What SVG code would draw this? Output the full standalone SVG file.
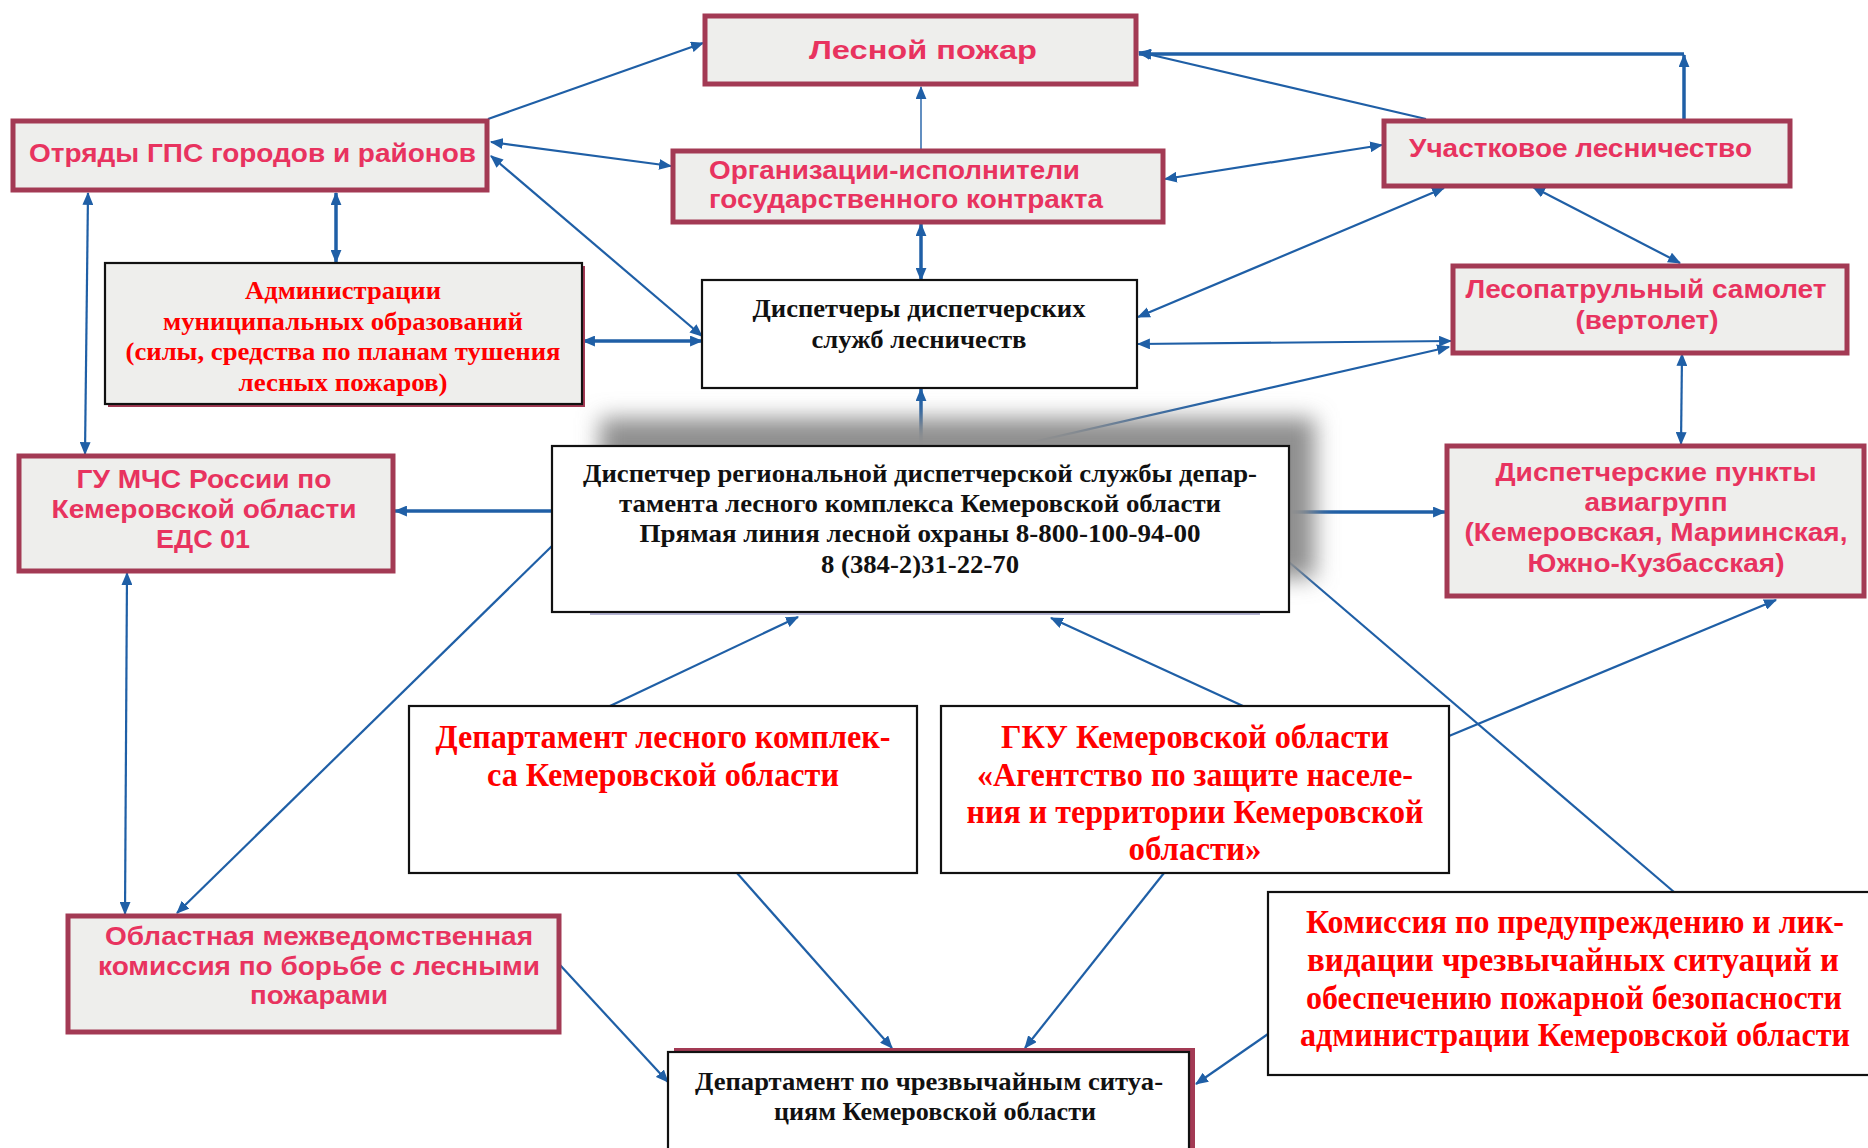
<svg xmlns="http://www.w3.org/2000/svg" width="1868" height="1148" viewBox="0 0 1868 1148">
<style>
.pb{fill:#eeeeec;stroke:#a33a54;stroke-width:5}
.bb{fill:#ffffff;stroke:#111111;stroke-width:2.2}
.gb{fill:#eeeeec;stroke:#111111;stroke-width:2.2}
.ps{font-family:"Liberation Sans",Arial,sans-serif;font-weight:bold;fill:#e8335f;font-size:26px}
.rs{font-family:"Liberation Serif","Times New Roman",serif;font-weight:bold;fill:#ff0000}
.ks{font-family:"Liberation Serif","Times New Roman",serif;font-weight:bold;fill:#111111}
.c{fill:none;stroke:#1f5fa6;stroke-width:2.2}
.t{stroke-width:3.5}
.th{stroke-width:1.4}
</style>
<defs>
<marker id="ah" viewBox="0 0 12 10" refX="11" refY="5" markerWidth="13" markerHeight="11" markerUnits="userSpaceOnUse" orient="auto-start-reverse"><path d="M0,0 L12,5 L0,10 z" fill="#1f5fa6"/></marker>
<filter id="blur" x="-20%" y="-40%" width="140%" height="180%"><feGaussianBlur stdDeviation="11"/></filter>
</defs>

<g id="connectors">
<line class="c" x1="488" y1="119" x2="703" y2="43" marker-end="url(#ah)"/>
<line class="c" x1="491" y1="142" x2="671" y2="166" marker-start="url(#ah)" marker-end="url(#ah)"/>
<line class="c" x1="491" y1="156" x2="702" y2="336" marker-start="url(#ah)" marker-end="url(#ah)"/>
<line class="c t" x1="336" y1="193" x2="336" y2="262" marker-start="url(#ah)" marker-end="url(#ah)"/>
<line class="c" x1="88" y1="193" x2="85" y2="454" marker-start="url(#ah)" marker-end="url(#ah)"/>
<line class="c t" x1="583" y1="341" x2="702" y2="341" marker-start="url(#ah)" marker-end="url(#ah)"/>
<line class="c th" x1="921" y1="149" x2="921" y2="87" marker-end="url(#ah)"/>
<line class="c t" x1="921" y1="224" x2="921" y2="280" marker-start="url(#ah)" marker-end="url(#ah)"/>
<line class="c" x1="1426" y1="119" x2="1139" y2="52" marker-end="url(#ah)"/>
<polyline class="c t" points="1684,54 1139,54" marker-end="url(#ah)"/>
<line class="c t" x1="1684" y1="119" x2="1684" y2="55" marker-end="url(#ah)"/>
<line class="c" x1="1165" y1="179" x2="1382" y2="145" marker-start="url(#ah)" marker-end="url(#ah)"/>
<line class="c" x1="1138" y1="317" x2="1444" y2="188" marker-start="url(#ah)" marker-end="url(#ah)"/>
<line class="c" x1="1533" y1="187" x2="1680" y2="263" marker-start="url(#ah)" marker-end="url(#ah)"/>
<line class="c" x1="1138" y1="344" x2="1451" y2="341" marker-start="url(#ah)" marker-end="url(#ah)"/>
<line class="c" x1="1016" y1="446" x2="1449" y2="347" marker-end="url(#ah)"/>
<line class="c t" x1="921" y1="446" x2="921" y2="389" marker-end="url(#ah)"/>
<line class="c" x1="1682" y1="354" x2="1681" y2="444" marker-start="url(#ah)" marker-end="url(#ah)"/>
<line class="c t" x1="552" y1="511" x2="395" y2="511" marker-end="url(#ah)"/>
<line class="c t" x1="1289" y1="512" x2="1445" y2="512" marker-end="url(#ah)"/>
<line class="c" x1="552" y1="546" x2="177" y2="913" marker-end="url(#ah)"/>
<line class="c" x1="127" y1="573" x2="125" y2="914" marker-start="url(#ah)" marker-end="url(#ah)"/>
<line class="c" x1="610" y1="706" x2="798" y2="617" marker-end="url(#ah)"/>
<line class="c" x1="1243" y1="706" x2="1051" y2="618" marker-end="url(#ah)"/>
<line class="c" x1="1449" y1="736" x2="1776" y2="600" marker-end="url(#ah)"/>
<line class="c" x1="1289" y1="562" x2="1674" y2="892"/>
<line class="c" x1="737" y1="873" x2="892" y2="1048" marker-end="url(#ah)"/>
<line class="c" x1="1164" y1="873" x2="1025" y2="1048" marker-end="url(#ah)"/>
<line class="c" x1="560" y1="965" x2="668" y2="1082" marker-end="url(#ah)"/>
<line class="c" x1="1268" y1="1034" x2="1196" y2="1084" marker-end="url(#ah)"/>
</g>

<g id="n-lesnoy-pozhar">
<rect class="pb" x="705" y="16" width="431" height="68"/>
<text class="ps" x="923" y="59" text-anchor="middle" font-size="31" textLength="228" lengthAdjust="spacingAndGlyphs">Лесной пожар</text>
</g>

<g id="n-otryady">
<rect class="pb" x="13" y="121" width="474" height="69"/>
<text class="ps" x="29" y="162" textLength="447" lengthAdjust="spacingAndGlyphs">Отряды ГПС городов и районов</text>
</g>

<g id="n-organizacii">
<rect class="pb" x="673" y="151" width="490" height="71"/>
<text class="ps" x="709" y="179" textLength="371" lengthAdjust="spacingAndGlyphs">Организации-исполнители</text>
<text class="ps" x="709" y="208" textLength="394" lengthAdjust="spacingAndGlyphs">государственного контракта</text>
</g>

<g id="n-uchastkovoe">
<rect class="pb" x="1384" y="121" width="406" height="65"/>
<text class="ps" x="1409" y="157" textLength="343" lengthAdjust="spacingAndGlyphs">Участковое лесничество</text>
</g>

<g id="n-administracii">
<rect x="108" y="266" width="477" height="141" fill="#a33a54"/>
<rect class="gb" x="105" y="263" width="477" height="141"/>
<text class="rs" font-size="25" text-anchor="middle" x="343" y="299" textLength="196" lengthAdjust="spacingAndGlyphs">Администрации</text>
<text class="rs" font-size="25" text-anchor="middle" x="343" y="330" textLength="360" lengthAdjust="spacingAndGlyphs">муниципальных образований</text>
<text class="rs" font-size="25" text-anchor="middle" x="343" y="360" textLength="435" lengthAdjust="spacingAndGlyphs">(силы, средства по планам тушения</text>
<text class="rs" font-size="25" text-anchor="middle" x="343" y="391" textLength="209" lengthAdjust="spacingAndGlyphs">лесных пожаров)</text>
</g>

<g id="n-dispetchery">
<rect class="bb" x="702" y="280" width="435" height="108"/>
<text class="ks" font-size="26" text-anchor="middle" x="919" y="317" textLength="333" lengthAdjust="spacingAndGlyphs">Диспетчеры диспетчерских</text>
<text class="ks" font-size="26" text-anchor="middle" x="919" y="348" textLength="215" lengthAdjust="spacingAndGlyphs">служб лесничеств</text>
</g>

<g id="n-lesopatrulny">
<rect class="pb" x="1453" y="266" width="394" height="87"/>
<text class="ps" text-anchor="middle" x="1646" y="298" textLength="361" lengthAdjust="spacingAndGlyphs">Лесопатрульный самолет</text>
<text class="ps" text-anchor="middle" x="1647" y="329" textLength="143" lengthAdjust="spacingAndGlyphs">(вертолет)</text>
</g>

<g id="n-gu-mchs">
<rect class="pb" x="19" y="456" width="374" height="115"/>
<text class="ps" text-anchor="middle" x="204" y="488" textLength="255" lengthAdjust="spacingAndGlyphs">ГУ МЧС России по</text>
<text class="ps" text-anchor="middle" x="204" y="518" textLength="305" lengthAdjust="spacingAndGlyphs">Кемеровской области</text>
<text class="ps" text-anchor="middle" x="203" y="548" textLength="94" lengthAdjust="spacingAndGlyphs">ЕДС 01</text>
</g>

<g id="n-central">
<rect x="600" y="418" width="715" height="160" fill="#8f8f8f" filter="url(#blur)"/>
<rect class="bb" x="552" y="446" width="737" height="166"/>
<line x1="590" y1="614" x2="1260" y2="614" stroke="#3a3a8a" stroke-width="1.5" opacity="0.5"/>
<text class="ks" font-size="26" text-anchor="middle" x="920" y="482" textLength="674" lengthAdjust="spacingAndGlyphs">Диспетчер региональной диспетчерской службы депар-</text>
<text class="ks" font-size="26" text-anchor="middle" x="920" y="512" textLength="602" lengthAdjust="spacingAndGlyphs">тамента лесного комплекса Кемеровской  области</text>
<text class="ks" font-size="26" text-anchor="middle" x="920" y="542" textLength="561" lengthAdjust="spacingAndGlyphs">Прямая линия лесной охраны  8-800-100-94-00</text>
<text class="ks" font-size="26" text-anchor="middle" x="920" y="573" textLength="198" lengthAdjust="spacingAndGlyphs">8 (384-2)31-22-70</text>
</g>

<g id="n-dispetcherskie-punkty">
<rect class="pb" x="1447" y="446" width="417" height="150"/>
<text class="ps" text-anchor="middle" x="1656" y="481" textLength="321" lengthAdjust="spacingAndGlyphs">Диспетчерские пункты</text>
<text class="ps" text-anchor="middle" x="1656" y="511" textLength="143" lengthAdjust="spacingAndGlyphs">авиагрупп</text>
<text class="ps" text-anchor="middle" x="1656" y="541" textLength="383" lengthAdjust="spacingAndGlyphs">(Кемеровская, Мариинская,</text>
<text class="ps" text-anchor="middle" x="1656" y="572" textLength="257" lengthAdjust="spacingAndGlyphs">Южно-Кузбасская)</text>
</g>

<g id="n-dep-lesnogo">
<rect class="bb" x="409" y="706" width="508" height="167"/>
<text class="rs" font-size="33" text-anchor="middle" x="663" y="748" textLength="455" lengthAdjust="spacingAndGlyphs">Департамент лесного комплек-</text>
<text class="rs" font-size="33" text-anchor="middle" x="663" y="786" textLength="352" lengthAdjust="spacingAndGlyphs">са Кемеровской области</text>
</g>

<g id="n-gku">
<rect class="bb" x="941" y="706" width="508" height="167"/>
<text class="rs" font-size="33" text-anchor="middle" x="1195" y="748" textLength="388" lengthAdjust="spacingAndGlyphs">ГКУ Кемеровской области</text>
<text class="rs" font-size="33" text-anchor="middle" x="1195" y="786" textLength="436" lengthAdjust="spacingAndGlyphs">«Агентство по защите населе-</text>
<text class="rs" font-size="33" text-anchor="middle" x="1195" y="823" textLength="457" lengthAdjust="spacingAndGlyphs">ния и территории Кемеровской</text>
<text class="rs" font-size="33" text-anchor="middle" x="1195" y="860" textLength="133" lengthAdjust="spacingAndGlyphs">области»</text>
</g>

<g id="n-oblastnaya">
<rect class="pb" x="68" y="916" width="491" height="116"/>
<text class="ps" text-anchor="middle" x="319" y="945" textLength="428" lengthAdjust="spacingAndGlyphs">Областная межведомственная</text>
<text class="ps" text-anchor="middle" x="319" y="975" textLength="442" lengthAdjust="spacingAndGlyphs">комиссия по борьбе с лесными</text>
<text class="ps" text-anchor="middle" x="319" y="1004" textLength="138" lengthAdjust="spacingAndGlyphs">пожарами</text>
</g>

<g id="n-komissiya">
<rect class="bb" x="1268" y="892" width="610" height="183"/>
<text class="rs" font-size="33" text-anchor="middle" x="1575" y="933" textLength="538" lengthAdjust="spacingAndGlyphs">Комиссия по предупреждению и лик-</text>
<text class="rs" font-size="33" text-anchor="middle" x="1573" y="971" textLength="532" lengthAdjust="spacingAndGlyphs">видации чрезвычайных ситуаций и</text>
<text class="rs" font-size="33" text-anchor="middle" x="1574" y="1009" textLength="536" lengthAdjust="spacingAndGlyphs">обеспечению пожарной безопасности</text>
<text class="rs" font-size="33" text-anchor="middle" x="1575" y="1046" textLength="550" lengthAdjust="spacingAndGlyphs">администрации Кемеровской области</text>
</g>

<g id="n-dchs">
<rect x="674" y="1048" width="521" height="130" fill="#a33a54"/>
<rect class="bb" x="668" y="1052" width="521" height="130"/>
<text class="ks" font-size="26" text-anchor="middle" x="929" y="1090" textLength="468" lengthAdjust="spacingAndGlyphs">Департамент по чрезвычайным ситуа-</text>
<text class="ks" font-size="26" text-anchor="middle" x="935" y="1120" textLength="322" lengthAdjust="spacingAndGlyphs">циям Кемеровской области</text>
</g>
</svg>
